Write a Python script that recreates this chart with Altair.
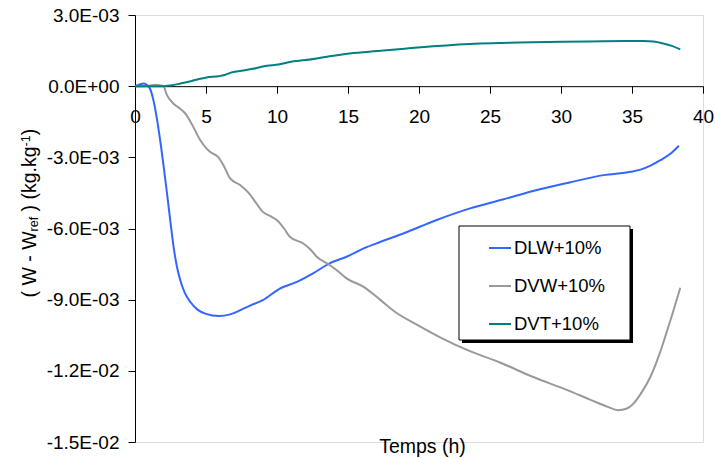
import altair as alt
import pandas as pd

# ---------------- data (values in units of 1e-3 kg/kg) ----------------
series_names = ["DLW+10%", "DVW+10%", "DVT+10%"]
series_colors = ["#3366ff", "#999999", "#008080"]

dlw_t = [0, 0.3, 0.6, 0.85, 1.05, 1.3, 1.55, 1.8, 2.0, 2.25, 2.5, 2.7, 2.95, 3.2, 3.5, 3.9,
         4.4, 5.0, 5.9, 6.7, 7.5, 8.3, 9.0, 10.2, 11.4, 12.6, 13.7, 14.9, 16.1, 17.3, 18.9,
         21.2, 23.6, 25.9, 28.3, 30.6, 33.0, 34.9, 35.6, 36.3, 37.0, 37.7, 38.3]
dlw_v = [0, 0.06, 0.11, 0.05, -0.1, -0.6, -1.4, -2.4, -3.3, -4.5, -5.75, -6.7, -7.6, -8.2,
         -8.7, -9.1, -9.42, -9.6, -9.69, -9.62, -9.42, -9.2, -9.02, -8.53, -8.25, -7.87, -7.47,
         -7.19, -6.84, -6.56, -6.21, -5.65, -5.15, -4.78, -4.38, -4.06, -3.75, -3.61, -3.52,
         -3.35, -3.12, -2.85, -2.51]

dvw_t = [0, 0.5, 1.0, 1.4, 1.8, 2.0, 2.25, 2.7, 3.2, 3.6, 4.0, 4.6, 5.0, 5.3, 5.85, 6.2, 6.7,
         7.4, 8.0, 8.5, 9.0, 9.6, 10.0, 10.5, 10.9, 11.85, 12.3, 12.8, 13.7, 14.3, 14.9, 16.1,
         17.3, 18.3, 20.0, 21.7, 23.5, 25.7, 28.0, 30.4, 32.0, 33.3, 34.0, 34.6, 35.1, 35.6,
         36.3, 36.9, 37.4, 37.9, 38.4]
dvw_v = [0, 0, 0.02, 0.06, 0.03, 0, -0.38, -0.73, -0.96, -1.2, -1.6, -2.28, -2.6, -2.78, -2.98,
         -3.3, -3.89, -4.17, -4.5, -4.9, -5.3, -5.5, -5.65, -6.0, -6.35, -6.63, -6.85, -7.19,
         -7.54, -7.8, -8.1, -8.46, -9.02, -9.51, -10.1, -10.65, -11.15, -11.65, -12.25, -12.8,
         -13.2, -13.52, -13.66, -13.6, -13.38, -12.98, -12.25, -11.35, -10.45, -9.5, -8.5]

dvt_t = [0, 1.0, 2.0, 2.5, 3.2, 4.0, 4.5, 5.05, 5.9, 6.3, 6.7, 7.5, 8.3, 8.8, 9.3, 10.1, 10.9,
         12.0, 12.8, 13.7, 15.1, 17.3, 19.0, 21.0, 24.3, 27.0, 30.1, 33.0, 35.0, 35.8, 36.5,
         37.2, 37.8, 38.4]
dvt_v = [0, 0, 0, 0.03, 0.11, 0.22, 0.3, 0.37, 0.42, 0.47, 0.56, 0.65, 0.73, 0.8, 0.86, 0.91,
         1.02, 1.1, 1.17, 1.26, 1.38, 1.49, 1.58, 1.68, 1.8, 1.84, 1.87, 1.89, 1.9, 1.9, 1.88,
         1.8, 1.7, 1.55]

x_ticks = [0, 5, 10, 15, 20, 25, 30, 35, 40]
y_ticks = [-0.015, -0.012, -0.009, -0.006, -0.003, 0.0, 0.003]
y_tick_labels = ["-1.5E-02", "-1.2E-02", "-9.0E-03", "-6.0E-03", "-3.0E-03", "0.0E+00", "3.0E-03"]

x_title = "Temps (h)"
# y title pieces: (text, kind, leading spaces) kind: main / sub / sup
y_title_parts = [("( W - W", "main", 0), ("ref", "sub", 0), (") (kg.kg", "main", 1),
                 ("-1", "sup", 0), (")", "main", 0)]

# ---------------- build table ----------------
rows = []
for name, ts, vs in zip(series_names, [dlw_t, dvw_t, dvt_t], [dlw_v, dvw_v, dvt_v]):
    for t, v in zip(ts, vs):
        rows.append({"series": name, "t": t, "w": v * 1e-3})
df = pd.DataFrame(rows)

W, H = 568, 427
FONT = "Liberation Sans"
FS = 19.5
zero_px = H * (0.003 / 0.018)

label_expr = "[" + ",".join("'%s'" % s for s in y_tick_labels) + "][round((datum.value + 0.015) / 0.003)]"

lines = alt.Chart(df).mark_line(strokeWidth=2, interpolate="monotone").encode(
    x=alt.X("t:Q",
            scale=alt.Scale(domain=[0, 40], nice=False),
            axis=alt.Axis(values=x_ticks, offset=-(H - zero_px), title=x_title,
                          titleY=366.5, titleBaseline="alphabetic", titleX=W / 2 + 3,
                          titleFontSize=FS, titleFontWeight="normal", titleFont=FONT,
                          titleColor="black",
                          labelFont=FONT, labelFontSize=19, labelColor="black",
                          labelPadding=14, labelFlush=False, tickSize=7, tickColor="black",
                          domainColor="black", grid=False, format="d")),
    y=alt.Y("w:Q",
            scale=alt.Scale(domain=[-0.015, 0.003], nice=False, zero=False),
            axis=alt.Axis(values=y_ticks, labelExpr=label_expr, title=None,
                          labelFont=FONT, labelFontSize=19, labelColor="black",
                          labelPadding=9, tickSize=7, tickColor="black",
                          domainColor="black", grid=False, labelFlush=False)),
    color=alt.Color("series:N",
                    scale=alt.Scale(domain=series_names, range=series_colors),
                    legend=alt.Legend(title=None, orient="none", legendX=353, legendY=221,
                                      padding=0, rowPadding=16, symbolType="stroke",
                                      symbolSize=484, symbolStrokeWidth=2,
                                      labelFont=FONT, labelFontSize=18.5, labelColor="black",
                                      labelOffset=2)),
)

one = alt.Data(values=[{"a": 1}])
shadow = alt.Chart(one).mark_rect(fill="black").encode(
    x=alt.value(327), x2=alt.value(498), y=alt.value(214), y2=alt.value(328))
box = alt.Chart(one).mark_rect(fill="white", stroke="black", strokeWidth=1).encode(
    x=alt.value(324), x2=alt.value(495), y=alt.value(211), y2=alt.value(325))

# y title built from pieces (rotated), with sub/superscripts
char_w = {"(": 333, ")": 333, " ": 278, "W": 944, "-": 333, "r": 333, "e": 556,
          "f": 278, "k": 500, "g": 556, ".": 278, "1": 556}
SUB = 12.5
base_x = 35.7 - 135
ypos = 297.5 - 15
title_layers = []
for txt, kind, lead in y_title_parts:
    size = FS if kind == "main" else SUB
    ypos -= lead * 0.278 * size
    xx = base_x if kind == "main" else (base_x + 2.5 if kind == "sub" else base_x - 5.5)
    title_layers.append(
        alt.Chart(one).mark_text(text=txt, angle=270, align="left", baseline="alphabetic",
                                 font=FONT, fontSize=size, color="black").encode(
            x=alt.value(xx), y=alt.value(ypos)))
    ypos -= sum(char_w[c] for c in txt) / 1000 * size

chart = alt.layer(lines, shadow, box, *title_layers).properties(
    width=W, height=H,
    autosize=alt.AutoSizeParams(type="none"),
    padding={"left": 135, "top": 15, "right": 12, "bottom": 17},
).configure_view(stroke=None).configure(font=FONT, background="white")

chart.save("out.html", embed_options={"renderer": "svg", "actions": False})
